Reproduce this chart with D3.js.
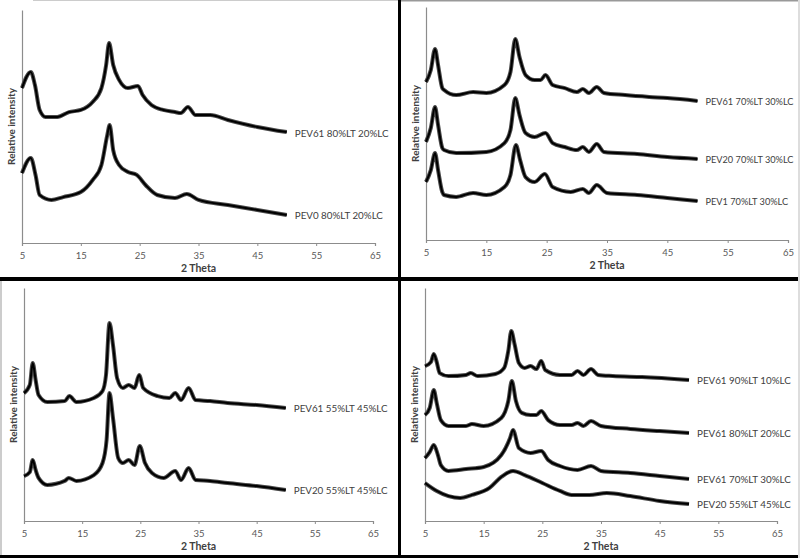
<!DOCTYPE html>
<html><head><meta charset="utf-8">
<script src="https://cdn.jsdelivr.net/npm/d3@7"></script>
<style>body{margin:0;background:#fff}svg{display:block}</style>
</head><body>
<script>
// ---- data: 2θ positions and relative intensity (arbitrary units, 0-100 per panel) ----
const xTicks = [5, 15, 25, 35, 45, 55, 65];

// Panel A (top-left)
const a_PEV61_80_20 = [[5,66.5],[6.5,73.4],[7.2,67.8],[8,57.1],[9,54.1],[11,54.1],[13,56.2],[15,57.1],[17,60.5],[18.5,66.5],[19.3,76.4],[19.8,85.8],[20.5,76.4],[21.5,70.0],[23,66.5],[24.7,67.4],[25.5,63.5],[27,59.2],[29,57.1],[31,56.2],[32,55.8],[33.2,58.4],[34.5,54.9],[37,54.9],[40,52.8],[45,49.8],[50,47.6]];
const a_PEV0_80_20 = [[5,30.0],[6.5,36.5],[7.3,29.2],[8,20.6],[10,18.5],[12,19.7],[15,21.9],[17,27.0],[18.5,33.5],[19.5,46.4],[19.9,50.6],[20.5,39.9],[21.5,33.5],[23,30.5],[24.5,29.2],[26,24.9],[28,20.6],[31,19.3],[33,21.0],[35,18.5],[40,16.3],[45,14.2],[50,12.0]];

// Panel B (top-right)
const b_PEV61_70_30 = [[5,67.8],[5.8,73.0],[6.5,82.0],[7.0,75.1],[7.7,65.2],[8,64.4],[10,62.2],[12.8,63.5],[15,63.1],[18,66.5],[19,72.1],[19.8,86.3],[20.5,78.5],[21.5,70.8],[23,68.7],[24,68.7],[24.8,70.8],[26,66.5],[28,65.2],[30,63.5],[31,64.8],[32,63.1],[33.3,65.7],[34.5,63.1],[38,62.2],[42,61.4],[45,60.9],[50,59.7]];
const b_PEV20_70_30 = [[5,42.1],[5.8,48.1],[6.5,57.1],[7.0,49.4],[7.7,39.5],[8,38.6],[10,37.3],[15,37.8],[18,41.6],[19,47.2],[19.8,60.9],[20.5,53.6],[21.5,45.9],[23,44.2],[24.8,45.9],[26,41.6],[28,39.9],[30,38.6],[31,39.9],[32,37.8],[33.3,41.2],[34.5,37.8],[40,36.9],[45,35.6],[50,34.8]];
const b_PEV1_70_30 = [[5,24.9],[5.8,30.0],[6.5,37.3],[7.0,30.0],[7.7,20.6],[8,19.3],[10,18.5],[12.8,20.2],[15,19.3],[18,22.7],[19,27.9],[19.9,40.8],[20.6,34.3],[21.5,27.0],[23,24.9],[24.7,28.3],[26,22.7],[29,20.6],[31,21.9],[32,20.2],[33.3,23.6],[35,20.2],[40,19.3],[45,18.0],[50,16.7]];

// Panel C (bottom-left)
const c_PEV61_55_45 = [[5,54.9],[6.0,58.4],[6.5,67.8],[7.0,60.5],[7.5,54.1],[9,51.1],[12,51.5],[12.8,53.6],[14,51.1],[17,52.8],[18.5,55.8],[19.1,62.7],[19.7,85.0],[20.3,75.5],[21,61.4],[22,57.1],[23,58.4],[24,57.1],[24.8,62.7],[25.5,57.1],[28,53.6],[30,52.8],[31,54.9],[32,51.9],[33.3,57.1],[34.5,51.9],[37,51.5],[40,50.6],[45,49.8],[50,48.5]];
const c_PEV20_55_45 = [[5,19.3],[6.0,21.0],[6.5,26.2],[7.0,21.9],[7.5,18.5],[9,15.5],[12,17.2],[12.7,18.5],[14,17.2],[17,19.7],[18.5,24.9],[19.2,34.8],[19.7,54.9],[20.3,44.2],[21.2,27.0],[22,24.9],[23,26.2],[24,24.0],[24.9,32.2],[25.8,24.9],[27,20.6],[29,18.5],[31,21.5],[32,17.6],[33.3,22.7],[34.5,17.6],[37,17.2],[40,16.3],[45,15.0],[50,13.3]];

// Panel D (bottom-right)
const d_PEV61_90_10 = [[5,66.5],[6.0,68.2],[6.5,71.7],[7.0,68.2],[7.5,63.5],[9,62.2],[12,62.7],[12.8,63.5],[14,62.2],[17,63.1],[18.5,65.7],[19.2,73.0],[19.7,81.5],[20.3,75.5],[21,67.8],[22,65.7],[23,66.5],[24,65.2],[24.8,68.7],[25.5,64.8],[28,62.7],[30,62.7],[31,64.4],[32,62.7],[33.3,65.2],[34.5,62.7],[37,62.2],[42,61.8],[50,60.5]];
const d_PEV61_80_20 = [[5,45.5],[5.8,48.5],[6.5,56.2],[7.0,50.6],[7.7,43.3],[9,40.8],[12,40.8],[13,41.6],[15,40.8],[18,44.2],[19.2,51.5],[19.8,60.1],[20.5,51.5],[21.5,46.4],[23,45.5],[24,45.5],[24.8,47.2],[26,43.3],[28,41.2],[30,41.2],[31,42.1],[32,40.8],[33.3,42.9],[35,40.8],[40,39.5],[45,38.6],[50,37.8]];
const d_PEV61_70_30 = [[5,27.0],[5.8,29.6],[6.5,32.6],[7.2,28.3],[7.7,24.0],[9,21.5],[12,22.3],[15,23.2],[18,28.3],[19.5,35.6],[20,39.1],[21,31.3],[23,29.2],[24.8,30.0],[26,26.2],[28,23.6],[31,21.9],[33.3,23.6],[35,21.5],[40,20.6],[45,19.3],[50,18.0]];
const d_PEV20_55_45 = [[5,16.3],[7,12.9],[9,10.7],[11,9.9],[13,11.2],[16,14.2],[18,18.9],[20,21.5],[22,19.7],[25,16.3],[28,12.9],[30,11.2],[33,11.2],[36,12.0],[40,10.7],[45,8.6],[50,7.3]];

const panels = [
  {x0:22, x1:375, yTop:10, yBot:243, labelSize:9.8, series:[
    {name:"PEV61 80%LT 20%LC", data:a_PEV61_80_20},
    {name:"PEV0 80%LT 20%LC", data:a_PEV0_80_20}]},
  {x0:426, x1:788, yTop:7, yBot:240, labelSize:9.2, series:[
    {name:"PEV61 70%LT 30%LC", data:b_PEV61_70_30},
    {name:"PEV20 70%LT 30%LC", data:b_PEV20_70_30},
    {name:"PEV1 70%LT 30%LC", data:b_PEV1_70_30}]},
  {x0:24, x1:373, yTop:288, yBot:521, labelSize:9.8, series:[
    {name:"PEV61 55%LT 45%LC", data:c_PEV61_55_45},
    {name:"PEV20 55%LT 45%LC", data:c_PEV20_55_45}]},
  {x0:425, x1:777, yTop:288, yBot:521, labelSize:9.8, series:[
    {name:"PEV61 90%LT 10%LC", data:d_PEV61_90_10},
    {name:"PEV61 80%LT 20%LC", data:d_PEV61_80_20},
    {name:"PEV61 70%LT 30%LC", data:d_PEV61_70_30},
    {name:"PEV20 55%LT 45%LC", data:d_PEV20_55_45}]}
];

const W = 800, H = 558;
const svg = d3.select("body").append("svg").attr("width", W).attr("height", H);
svg.append("rect").attr("width", W).attr("height", H).attr("fill", "#fff");

const font = "Lato, 'Open Sans', sans-serif";

panels.forEach(p => {
  const x = d3.scaleLinear().domain([5, 65]).range([p.x0, p.x1]);
  const y = d3.scaleLinear().domain([0, 100]).range([p.yBot, p.yTop]);
  const g = svg.append("g");

  // x axis
  const xa = g.append("g").attr("transform", `translate(0,${p.yBot})`)
    .call(d3.axisBottom(x).tickValues(xTicks).tickSize(3).tickPadding(6));
  xa.select(".domain").attr("stroke", "#8c8c8c").attr("stroke-width", 1.2);
  xa.selectAll(".tick line").attr("stroke", "#8c8c8c");
  xa.selectAll(".tick text").attr("fill", "#595959").style("font-family", font).style("font-size", "9.5px");

  // y axis (no ticks)
  const ya = g.append("g").attr("transform", `translate(${p.x0},0)`)
    .call(d3.axisLeft(y).tickValues([]).tickSizeOuter(0));
  ya.select(".domain").attr("stroke", "#8c8c8c").attr("stroke-width", 1.2);

  // axis titles
  g.append("text").attr("x", (p.x0 + p.x1) / 2).attr("y", p.yBot + 29)
    .attr("text-anchor", "middle").attr("fill", "#404040")
    .style("font-family", font).style("font-size", "10.5px").style("font-weight", "bold")
    .text("2 Theta");
  g.append("text")
    .attr("transform", `translate(${p.x0 - 7},${(p.yTop + p.yBot) / 2}) rotate(-90)`)
    .attr("text-anchor", "middle").attr("fill", "#404040")
    .style("font-family", font).style("font-size", "10px").style("font-weight", "bold")
    .text("Relative intensity");

  const line = d3.line().x(d => x(d[0])).y(d => y(d[1])).curve(d3.curveMonotoneX);
  p.series.forEach(s => {
    g.append("path").datum(s.data).attr("d", line)
      .attr("fill", "none").attr("stroke", "#4a4a4a").attr("stroke-width", 4)
      .attr("stroke-linejoin", "round");
    g.append("path").datum(s.data).attr("d", line)
      .attr("fill", "none").attr("stroke", "#000").attr("stroke-width", 2)
      .attr("stroke-linejoin", "round");
    const last = s.data[s.data.length - 1];
    g.append("text").attr("x", x(last[0]) + 8).attr("y", y(last[1]) + 1)
      .attr("dy", "0.35em").attr("fill", "#404040")
      .style("font-family", font).style("font-size", p.labelSize + "px")
      .text(s.name);
  });
});

// panel separators / frame
svg.append("rect").attr("x", 398).attr("y", 0).attr("width", 3).attr("height", H).attr("fill", "#000");
svg.append("rect").attr("x", 0).attr("y", 277).attr("width", W).attr("height", 4).attr("fill", "#000");
svg.append("rect").attr("x", 0).attr("y", 555).attr("width", W).attr("height", 3).attr("fill", "#000");
svg.append("rect").attr("x", 33).attr("y", 0).attr("width", 365).attr("height", 1).attr("fill", "#ccc");
svg.append("rect").attr("x", 401).attr("y", 0).attr("width", 399).attr("height", 1.5).attr("fill", "#999");
svg.append("rect").attr("x", 798).attr("y", 0).attr("width", 2).attr("height", H).attr("fill", "#ddd");
svg.append("rect").attr("x", 0).attr("y", 281).attr("width", 2).attr("height", 274).attr("fill", "#ccc");
</script>
</body></html>
